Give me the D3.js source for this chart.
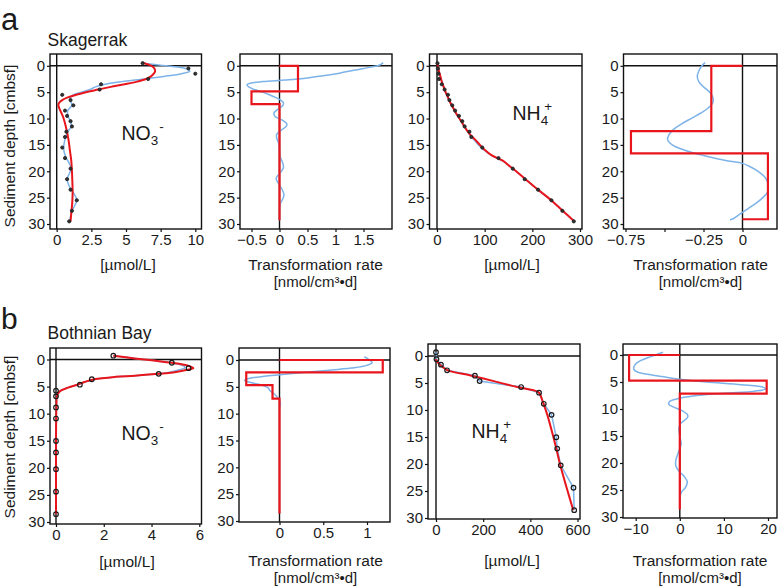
<!DOCTYPE html>
<html><head><meta charset="utf-8">
<script src="https://cdn.jsdelivr.net/npm/d3@7"></script>
<style>
body{margin:0;background:#fff}
svg{display:block}
text{font-family:"Liberation Sans",Arial,Helvetica,sans-serif;fill:#1a1a1a}
</style>
</head><body><svg id="c" width="779" height="586"></svg>
<script>
// ---------------- DATA ----------------
const yTicks = [0, 5, 10, 15, 20, 25, 30];

// (a) Skagerrak – NO3- concentration
const skNO3Depth = [-0.5,0.5,1.5,2.5,3.5,4.5,5.5,6.5,7.5,8.5,9.5,10.5,11.5,12.5,13.5,15.5,17.5,19.5,21.5,23.5,25.5,27.5,29.5];
const skNO3Conc  = [6.2,9.5,10.0,6.6,3.2,3.1,0.4,1.0,1.2,0.6,0.75,1.0,1.1,0.7,0.6,0.4,0.6,1.0,0.75,1.0,1.45,1.1,0.9];
const skNO3FitDepth = [-0.5,0,0.5,1,1.5,2,2.5,3,3.5,4,4.5,5,5.5,6,6.5,7,7.5,8,9,10,12,14,16,18,20,22,24,26,28,29.5];
const skNO3Fit      = [6.3,6.85,7.05,7.1,7.0,6.8,6.45,5.8,4.9,3.9,3.0,2.1,1.4,0.8,0.4,0.18,0.12,0.18,0.35,0.5,0.7,0.85,0.95,1.05,1.1,1.13,1.15,1.12,1.05,1.0];
const skNO3SmoothDepth = [-0.5,0,0.5,1,1.5,2,2.5,3,3.5,4,4.5,5,5.5,6,6.5,7,7.5,8,8.5,9.5,10.5,11.5,12.5,13.5,14.5,15.5,16.5,17.5,18.5,19.5,20.5,21.5,22.5,23.5,24.5,25.5,26.5,27.5,28.5,29.5];
const skNO3Smooth      = [6.2,7.9,9.3,9.6,9.0,7.8,6.3,4.7,3.5,2.8,2.4,1.8,1.2,1.0,0.95,1.05,1.1,0.95,0.8,0.8,1.0,1.05,0.8,0.65,0.55,0.5,0.55,0.7,0.9,1.05,0.9,0.75,0.85,1.05,1.3,1.45,1.3,1.1,1.0,0.95];
const skNO3XTicks = [0, 2.5, 5, 7.5, 10];
const skNO3XLabels = ["0", "2.5", "5", "7.5", "10"];

// (a) Skagerrak – NO3- transformation rate
const skNO3RateBounds = [0, 4.85, 7.25, 29.3];
const skNO3RateSteps  = [0.33, -0.5, 0];
const skNO3RateCurveDepth = [-0.6,-0.2,0.3,0.8,1.4,1.9,2.4,2.7,3.0,3.3,3.6,4.0,4.5,5,5.5,6,6.5,7,7.5,8,8.5,9,9.6,10.3,11,11.5,12.2,13,13.7,14.5,15.5,16.5,17.5,18.5,19.3,20.2,21.3,22.3,23.5,24.5,25.2,26,27,28,29.3];
const skNO3RateCurve      = [1.85,1.8,1.6,1.35,1.07,0.78,0.43,0.1,-0.3,-0.52,-0.58,-0.55,-0.45,-0.3,-0.18,-0.07,0.02,0.07,0.06,0,-0.06,-0.1,-0.08,0.05,0.13,0.12,0.03,-0.05,-0.05,-0.02,0,0,0.02,0.06,0.07,0.02,-0.06,-0.02,0.05,0.08,0.06,0.02,0,0,0];
const skNO3RateXTicks = [-0.5, 0, 0.5, 1, 1.5];
const skNO3RateXLabels = ["\u22120.5", "0", "0.5", "1", "1.5"];

// (a) Skagerrak – NH4+ concentration
const skNH4Depth = [-0.5,0.5,1.5,2.5,3.5,4.5,5.5,6.5,7.5,8.5,9.5,10.5,11.5,12.5,13.5,15.5,17.5,19.5,21.5,23.5,25.5,27.5,29.5];
const skNH4Conc  = [1,2,3,4,10,16,23,26,32,38,46,53,58,68,72,95,129,159,184,212,240,263,287];
const skNH4FitDepth = [-0.5,0,1,2,3,4,5,6,7,8,9,10,11,12,13,14,15,16,17,18,19,20,21,22,23,24,25,26,27,28,29,29.5];
const skNH4Fit      = [0.5,1.5,4,7,10,14,18,23,28,34,40,47,54,61,69,80,90,101,115,138,152,166,179,192,205,219,233,246,258,270,282,288];
const skNH4Smooth   = [0.5,1.5,4,7,10,14,18,23,28,34,40,47,54,61,68,77,87,99,114,137,152,166,179,192,205,219,233,246,258,270,282,288];
const skNH4XTicks = [0, 100, 200, 300];
const skNH4XLabels = ["0", "100", "200", "300"];

// (a) Skagerrak – NH4+ transformation rate
const skNH4RateBounds = [0, 12.4, 16.6, 29.1];
const skNH4RateSteps  = [-0.2, -0.715, 0.163];
const skNH4RateCurveDepth = [-0.6,0,1,2,3,4,5,6,7,8,9,10,11,12,13,14,15,16,17,18,18.5,19,20,21,22,23,24,25,26,27,28,29,29.2];
const skNH4RateCurve      = [-0.24,-0.26,-0.28,-0.29,-0.28,-0.25,-0.21,-0.19,-0.19,-0.22,-0.27,-0.33,-0.39,-0.44,-0.47,-0.48,-0.45,-0.37,-0.25,-0.1,0,0.04,0.1,0.14,0.16,0.165,0.16,0.13,0.09,0.04,-0.01,-0.06,-0.08];
const skNH4RateXTicks = [-0.75, -0.5, -0.25, 0];
const skNH4RateXLabels = ["\u22120.75", "", "\u22120.25", "0"];

// (b) Bothnian Bay – NO3- concentration
const bbDepth = [-0.7,0.6,1.6,2.65,3.65,4.65,5.75,6.8,8.85,10.9,15.05,17.15,20.25,24.4,28.55];
const bbNO3Conc = [2.4,4.85,5.55,4.3,1.5,1.0,0,0,0,0,0,0,0,0,0];
const bbNO3FitDepth = [-0.7,-0.2,0.2,0.6,1.1,1.6,2.0,2.4,2.65,3.0,3.2,3.65,4.15,4.65,5.2,5.75,6.3,7,8,10,15,20,28.55];
const bbNO3Fit      = [2.4,3.3,4.1,4.85,5.5,5.75,5.4,4.9,4.3,3.3,2.5,1.6,1.2,0.9,0.5,0.2,0.08,0.03,0.02,0.01,0,0,0];
const bbNO3SmoothDepth = [-0.7,-0.2,0.2,0.6,1.1,1.5,2.0,2.4,2.65,3.0,3.2,3.65,4.15,4.65,5.2,5.75,6.3,7,8,10,15,20,28.55];
const bbNO3Smooth      = [2.4,3.3,4.1,4.85,5.3,5.4,5.1,4.7,4.3,3.3,2.5,1.6,1.2,0.9,0.5,0.2,0.08,0.03,0.02,0.01,0,0,0];
const bbNO3XTicks = [0, 2, 4, 6];
const bbNO3XLabels = ["0", "2", "4", "6"];

// (b) Bothnian Bay – NO3- transformation rate
const bbNO3RateBounds = [0, 2.3, 4.7, 7.2, 28.6];
const bbNO3RateSteps  = [1.18, -0.38, -0.08, 0];
const bbNO3RateCurveDepth = [-0.6,0,0.5,1,1.5,2,2.5,3,3.4,3.8,4.2,4.7,5.2,5.7,6.2,7,8,9];
const bbNO3RateCurve      = [0.97,1.03,1.06,1.0,0.82,0.5,0.15,-0.15,-0.34,-0.4,-0.33,-0.2,-0.13,-0.11,-0.07,-0.02,0.01,0];
const bbNO3RateXTicks = [0, 0.5, 1];
const bbNO3RateXLabels = ["0", "0.5", "1"];

// (b) Bothnian Bay – NH4+ concentration
const bbNH4Conc = [0,2,21,47,165,185,361,437,457,490,510,514,529,583,586];
const bbNH4FitDepth = [0.6,1.2,1.6,2.1,2.65,3.65,4.65,5.75,6.5,6.8,8.85,10.9,15.05,17.15,20.25,24.4,28.55];
const bbNH4Fit      = [0,8,16,30,50,150,245,345,425,437,456,472,498,510,527,554,582];
const bbNH4XTicks = [0, 200, 400, 600];
const bbNH4XLabels = ["0", "200", "400", "600"];

// (b) Bothnian Bay – NH4+ transformation rate
const bbNH4RateBounds = [0, 4.75, 7.15, 28.6];
const bbNH4RateSteps  = [-11.5, 19.7, 0];
const bbNH4RateCurveDepth = [-0.5,0,0.5,1,1.5,2,2.7,3.2,3.6,4,4.5,5,5.5,6,6.3,6.7,7.1,7.6,8.1,8.6,9.1,9.6,10.3,11,11.5,12,12.7,13.5,15,16.5,18,19.5,20.5,21.5,22.5,23.5,24.5,25.5,27,28.5];
const bbNH4RateCurve      = [-3.8,-5.5,-7.3,-8.8,-9.8,-10.3,-10.4,-9.5,-7,-4,0,6,14,19,19.4,17,10,3,-0.5,-2.3,-2.5,-1.5,0.5,1.7,1.8,1.2,0.2,-0.2,0,0.3,-0.3,-0.9,-0.9,-0.2,1,1.7,1.3,0.3,0,0];
const bbNH4RateXTicks = [-10, 0, 10, 20];
const bbNH4RateXLabels = ["\u221210", "0", "10", "20"];

// ---------------- STYLE ----------------
const RED = "#e8161c", BLUE = "#7db3e8", INK = "#111";
const svg = d3.select("#c");

const zip = (ds, vs) => ds.map((d, i) => [d, vs[i]]);
function stepPoints(bounds, steps) {
  const pts = [[bounds[0], 0]];
  steps.forEach((r, i) => { pts.push([bounds[i], r]); pts.push([bounds[i + 1], r]); });
  pts.push([bounds[bounds.length - 1], 0]);
  return pts;
}

const panels = [
  // top row
  { f:[50,201.5,54,229], xa:[0,10], xp:[56.7,195.3], yp:[65.8,224],
    xt:skNO3XTicks, xl:skNO3XLabels,
    blue:zip(skNO3SmoothDepth, skNO3Smooth), red:zip(skNO3FitDepth, skNO3Fit),
    pts:zip(skNO3Depth, skNO3Conc), ptStyle:"dot",
    lab:["[\u00b5mol/L]"], labX:128, labY:270, ion:{t:"NO", s:"3", p:"-", x:121.5, y:140} },
  { f:[240,392,54,229], xa:[0,1], xp:[279.5,335.5], yp:[65.8,224],
    xt:skNO3RateXTicks, xl:skNO3RateXLabels,
    blue:zip(skNO3RateCurveDepth, skNO3RateCurve), step:stepPoints(skNO3RateBounds, skNO3RateSteps),
    lab:["Transformation rate","[nmol/cm\u00b3\u2022d]"], labX:315.5, labY:270 },
  { f:[429.5,582,54,229], xa:[0,300], xp:[437,580], yp:[65.8,224],
    xt:skNH4XTicks, xl:skNH4XLabels,
    blue:zip(skNH4FitDepth, skNH4Smooth), red:zip(skNH4FitDepth, skNH4Fit),
    pts:zip(skNH4Depth, skNH4Conc), ptStyle:"dot",
    lab:["[\u00b5mol/L]"], labX:512, labY:270, ion:{t:"NH", s:"4", p:"+", x:512.5, y:120} },
  { f:[623.5,777,54,229], xa:[-0.75,0], xp:[625.5,742.5], yp:[65.8,224],
    xt:skNH4RateXTicks, xl:skNH4RateXLabels,
    blue:zip(skNH4RateCurveDepth, skNH4RateCurve), step:stepPoints(skNH4RateBounds, skNH4RateSteps),
    lab:["Transformation rate","[nmol/cm\u00b3\u2022d]"], labX:700.5, labY:270 },
  // bottom row
  { f:[50,201.5,348,524], xa:[0,6], xp:[56,199.3], yp:[359.5,522],
    xt:bbNO3XTicks, xl:bbNO3XLabels,
    blue:zip(bbNO3SmoothDepth, bbNO3Smooth), red:zip(bbNO3FitDepth, bbNO3Fit),
    pts:zip(bbDepth, bbNO3Conc), ptStyle:"ring",
    lab:["[\u00b5mol/L]"], labX:127, labY:567, ion:{t:"NO", s:"3", p:"-", x:121.5, y:440} },
  { f:[239,390,348,522], xa:[0,1], xp:[279.5,367], yp:[360,521],
    xt:bbNO3RateXTicks, xl:bbNO3RateXLabels,
    blue:zip(bbNO3RateCurveDepth, bbNO3RateCurve), step:stepPoints(bbNO3RateBounds, bbNO3RateSteps),
    lab:["Transformation rate","[nmol/cm\u00b3\u2022d]"], labX:315.5, labY:566 },
  { f:[428,580,344,519], xa:[0,600], xp:[436,577.5], yp:[356,518],
    xt:bbNH4XTicks, xl:bbNH4XLabels,
    blue:zip(bbDepth, bbNH4Conc), blueLinear:true, red:zip(bbNH4FitDepth, bbNH4Fit),
    pts:zip(bbDepth, bbNH4Conc), ptStyle:"ring",
    lab:["[\u00b5mol/L]"], labX:512, labY:566, ion:{t:"NH", s:"4", p:"+", x:471.5, y:438} },
  { f:[623,777,344,518], xa:[0,20], xp:[679.8,768], yp:[355,517],
    xt:bbNH4RateXTicks, xl:bbNH4RateXLabels,
    blue:zip(bbNH4RateCurveDepth, bbNH4RateCurve), step:stepPoints(bbNH4RateBounds, bbNH4RateSteps),
    lab:["Transformation rate","[nmol/cm\u00b3\u2022d]"], labX:700, labY:566 }
];

panels.forEach((p, i) => {
  const [x0, x1, y0, y1] = p.f;
  const x = d3.scaleLinear().domain(p.xa).range(p.xp);
  const y = d3.scaleLinear().domain([0, 30]).range(p.yp);
  const g = svg.append("g");
  const cid = "clip" + i;
  svg.append("clipPath").attr("id", cid).append("rect")
    .attr("x", x0).attr("y", y0).attr("width", x1 - x0).attr("height", y1 - y0);
  const d = g.append("g").attr("clip-path", `url(#${cid})`);

  // zero lines
  d.append("line").attr("x1", x0).attr("x2", x1).attr("y1", y(0)).attr("y2", y(0))
    .attr("stroke", INK).attr("stroke-width", 1.4);
  d.append("line").attr("x1", x(0)).attr("x2", x(0)).attr("y1", y0).attr("y2", y1)
    .attr("stroke", INK).attr("stroke-width", 1.4);

  const line = (curve) => d3.line().x(v => x(v[1])).y(v => y(v[0])).curve(curve);
  if (p.blue) d.append("path").attr("d", line(p.blueLinear ? d3.curveLinear : d3.curveCatmullRom)(p.blue))
    .attr("fill", "none").attr("stroke", BLUE).attr("stroke-width", 1.5);
  if (p.red) d.append("path").attr("d", line(d3.curveCatmullRom)(p.red))
    .attr("fill", "none").attr("stroke", RED).attr("stroke-width", 2);
  if (p.step) d.append("path").attr("d", line(d3.curveLinear)(p.step))
    .attr("fill", "none").attr("stroke", RED).attr("stroke-width", 2.2).attr("stroke-linejoin", "miter");
  if (p.pts) {
    d.selectAll("circle.pt").data(p.pts).join("circle").attr("class", "pt")
      .attr("cx", v => x(v[1])).attr("cy", v => y(v[0]))
      .attr("r", p.ptStyle === "dot" ? 1.6 : 2.3)
      .attr("fill", p.ptStyle === "dot" ? "#333" : "none")
      .attr("stroke", "#1a1a1a").attr("stroke-width", p.ptStyle === "dot" ? 0.8 : 1.2);
  }

  // frame
  g.append("rect").attr("x", x0).attr("y", y0).attr("width", x1 - x0).attr("height", y1 - y0)
    .attr("fill", "none").attr("stroke", INK).attr("stroke-width", 1.4);

  // axes
  const ya = g.append("g").attr("transform", `translate(${x0},0)`)
    .call(d3.axisLeft(y).tickValues(yTicks).tickSize(3).tickPadding(2));
  const xa = g.append("g").attr("transform", `translate(0,${y1})`)
    .call(d3.axisBottom(x).tickValues(p.xt).tickFormat((v, k) => p.xl[k]).tickSize(3).tickPadding(2));
  [ya, xa].forEach(a => {
    a.select(".domain").remove();
    a.selectAll("line").attr("stroke", INK).attr("stroke-width", 1.2);
    a.selectAll("text").attr("font-size", 15).attr("fill", "#1a1a1a")
      .attr("font-family", '"Liberation Sans", Arial, sans-serif');
  });

  // axis labels
  p.lab.forEach((t, k) => {
    svg.append("text").attr("x", p.labX).attr("y", p.labY + k * 17)
      .attr("text-anchor", "middle").attr("font-size", k === 0 ? 15.5 : 15).text(t);
  });

  // ion label
  if (p.ion) {
    const t = svg.append("text").attr("x", p.ion.x).attr("y", p.ion.y).attr("font-size", 19.5);
    t.append("tspan").text(p.ion.t);
    t.append("tspan").attr("font-size", 13.5).attr("dy", 5).text(p.ion.s);
    t.append("tspan").attr("font-size", 13.5).attr("dy", -14)
      .attr("dx", p.ion.p === "+" ? -4 : 1).text(p.ion.p);
  }
});

// panel letters, titles, y labels
svg.append("text").attr("x", 1).attr("y", 30).attr("font-size", 31).text("a");
svg.append("text").attr("x", 1).attr("y", 329).attr("font-size", 30).text("b");
svg.append("text").attr("x", 47.5).attr("y", 45.5).attr("font-size", 17.5).text("Skagerrak");
svg.append("text").attr("x", 47.5).attr("y", 339).attr("font-size", 17.5).text("Bothnian Bay");
[146, 437].forEach(cy => {
  svg.append("text").attr("transform", `translate(15,${cy}) rotate(-90)`)
    .attr("text-anchor", "middle").attr("font-size", 15.5).text("Sediment depth [cmbsf]");
});
</script></body></html>
